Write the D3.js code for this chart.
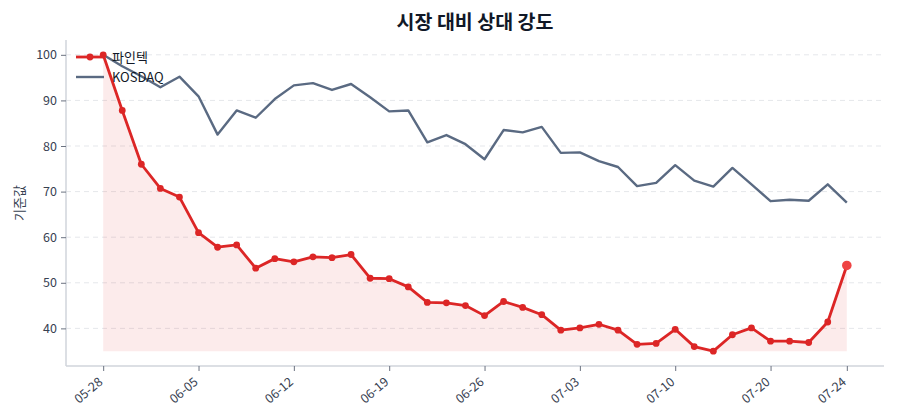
<!DOCTYPE html>
<html><head><meta charset="utf-8">
<script src="https://cdn.jsdelivr.net/npm/d3@7"></script>
<style>
body{margin:0;background:#fff;}
text{font-family:"Noto Sans CJK KR","Noto Sans",sans-serif;}
</style></head>
<body><svg id="c" width="900" height="420"></svg>
<script>
const title = "시장 대비 상대 강도";
const yLabel = "기준값";
const seriesNames = ["파인텍", "KOSDAQ"];
const stockValues = [100,87.8,76.0,70.7,68.8,61.0,57.8,58.3,53.2,55.3,54.6,55.7,55.5,56.2,51.0,50.9,49.1,45.7,45.6,45.0,42.8,45.9,44.6,43.0,39.6,40.1,40.9,39.6,36.5,36.7,39.8,36.0,35.0,38.6,40.1,37.2,37.2,36.9,41.4,53.8];
const kosdaqValues = [100,97.5,95.3,92.9,95.2,90.9,82.5,87.8,86.2,90.3,93.3,93.8,92.3,93.6,90.7,87.6,87.8,80.8,82.4,80.4,77.1,83.5,83.0,84.2,78.5,78.6,76.7,75.4,71.2,71.9,75.8,72.4,71.1,75.2,71.6,67.9,68.2,68.0,71.6,67.6];
const tickIndex = [0,5,10,15,20,25,30,35,39];
const tickLabels = ["05-28","06-05","06-12","06-19","06-26","07-03","07-10","07-20","07-24"];
const yTicks = [40,50,60,70,80,90,100];

const svg = d3.select("#c");
const m = {l:66, r:884, t:40, b:366};
const n = stockValues.length;
const padX = (n-1)*0.05;
const x = d3.scaleLinear().domain([-padX, n-1+padX]).range([m.l, m.r]);
const all = stockValues.concat(kosdaqValues);
const lo = d3.min(all), hi = d3.max(all), pad = (hi-lo)*0.05;
const y = d3.scaleLinear().domain([lo-pad, hi+pad]).range([m.b, m.t]);

// grid
svg.append("g").selectAll("line").data(yTicks).join("line")
  .attr("x1", m.l).attr("x2", m.r).attr("y1", d=>y(d)).attr("y2", d=>y(d))
  .attr("stroke", "#e5e7eb").attr("stroke-dasharray", "5,4").attr("stroke-width", 1);

// area
const minStock = d3.min(stockValues);
svg.append("path").datum(stockValues)
  .attr("d", d3.area().x((d,i)=>x(i)).y0(y(minStock)).y1(d=>y(d)))
  .attr("fill", "#dc2626").attr("fill-opacity", 0.09);

// kosdaq line
svg.append("path").datum(kosdaqValues)
  .attr("d", d3.line().x((d,i)=>x(i)).y(d=>y(d)))
  .attr("fill", "none").attr("stroke", "#5a6a82").attr("stroke-width", 2.4).attr("stroke-linejoin","round");

// stock line
svg.append("path").datum(stockValues)
  .attr("d", d3.line().x((d,i)=>x(i)).y(d=>y(d)))
  .attr("fill", "none").attr("stroke", "#dc2626").attr("stroke-width", 2.8).attr("stroke-linejoin","round");
svg.append("g").selectAll("circle").data(stockValues).join("circle")
  .attr("cx", (d,i)=>x(i)).attr("cy", d=>y(d))
  .attr("r", (d,i)=> i===n-1 ? 4.8 : 3.4)
  .attr("fill", (d,i)=> i===n-1 ? "#ef4444" : "#dc2626");

// axes
const axisColor = "#d1d5db";
const yAxis = svg.append("g").attr("transform", `translate(${m.l},0)`)
  .call(d3.axisLeft(y).tickValues(yTicks).tickSize(5).tickPadding(4));
yAxis.select(".domain").attr("stroke", axisColor).attr("stroke-width", 1.5).attr("d", `M0,${m.t}V${m.b}`);
yAxis.selectAll(".tick line").attr("stroke", "#6b7280");
yAxis.selectAll(".tick text").attr("fill", "#374151").attr("font-size", 12.5);

const xAxis = svg.append("g").attr("transform", `translate(0,${m.b})`)
  .call(d3.axisBottom(x).tickValues(tickIndex).tickFormat((d,i)=>tickLabels[i]).tickSize(5).tickPadding(6));
xAxis.select(".domain").attr("stroke", axisColor).attr("stroke-width", 1.5).attr("d", `M${m.l},0H${m.r}`);
xAxis.selectAll(".tick line").attr("stroke", "#6b7280");
xAxis.selectAll(".tick text").attr("fill", "#374151").attr("font-size", 12.5)
  .attr("text-anchor", "end").attr("y", 0).attr("dy", "0.35em")
  .attr("transform", "translate(-3,14) rotate(-40)");

// title
svg.append("text").attr("x", (m.l+m.r)/2).attr("y", 29).attr("text-anchor", "middle")
  .attr("font-size", 19.5).attr("font-weight", "bold").attr("fill", "#111827").text(title);

// y label
svg.append("text").attr("transform", `translate(24,${(m.t+m.b)/2}) rotate(-90)`)
  .attr("text-anchor", "middle").attr("font-size", 13).attr("fill", "#374151").text(yLabel);

// legend
const lg = svg.append("g").attr("transform", "translate(76,57)");
lg.append("line").attr("x1",0).attr("x2",28).attr("y1",0).attr("y2",0).attr("stroke","#dc2626").attr("stroke-width",2.8);
lg.append("circle").attr("cx",14).attr("cy",0).attr("r",3.4).attr("fill","#dc2626");
lg.append("text").attr("x",36).attr("y",0).attr("dy","0.35em").attr("font-size",13).attr("fill","#111827").text(seriesNames[0]);
lg.append("line").attr("x1",0).attr("x2",28).attr("y1",20).attr("y2",20).attr("stroke","#5a6a82").attr("stroke-width",2.4);
lg.append("text").attr("x",36).attr("y",20).attr("dy","0.35em").attr("font-size",13).attr("fill","#111827").text(seriesNames[1]);
</script></body></html>
